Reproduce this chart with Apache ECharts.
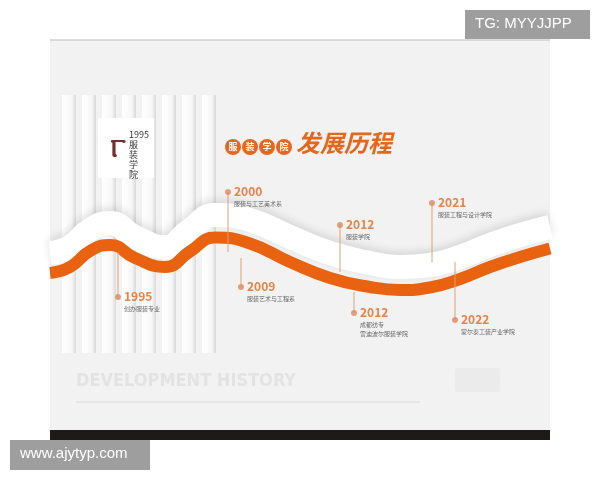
<!DOCTYPE html><html><head><meta charset="utf-8"><script src="https://cdn.jsdelivr.net/npm/echarts@6/dist/echarts.min.js"></script>
<style>html,body{margin:0;background:#fff}#c{width:600px;height:480px}</style></head><body><div id="c"></div><script>
const waveX=[0,20,40,60,85,115,140,165,200,240,280,320,350,380,410,440,470,500];
const waveTop=[228,222,205,198,212,222,205,190,195,212,228,238,242,240,232,220,210,202];
const waveBot=[238,232,217,212,224,232,218,205,212,232,248,256,258,255,246,234,224,215];
const years=['1995','2000','2009','2012','2012','2021','2022'];
const names=['创办服装专业','服装与工艺美术系','服装艺术与工程系','服装学院','成都纺专\n雷迪波尔服装学院','服装工程与设计学院','蒙尔泰工装产业学院'];
const evX=[68,178,191,290,304,382,405];
const evY=[257,152,247,185,273,163,280];
const stemEnd=[212,212,218,232,252,222,222];
const stripes=[12,32,52,72,92,112,132,152];
const chart=echarts.init(document.getElementById('c'));
const F='"Noto Sans CJK SC",sans-serif';
chart.setOption({
 animation:false,
 grid:{left:50,top:40,width:500,height:400},
 xAxis:{type:'value',min:0,max:500,show:false},
 yAxis:{type:'value',min:0,max:400,inverse:true,show:false},
 graphic:[
  {type:'rect',shape:{x:0,y:0,width:600,height:480},style:{fill:'#fff'},z:-10},
  {type:'rect',shape:{x:50,y:40,width:500,height:390},style:{fill:'#f2f2f2'},z:-9},
  {type:'line',shape:{x1:50,y1:40,x2:550,y2:40},style:{stroke:'#bbb',lineWidth:1},z:-8},
  {type:'rect',shape:{x:50,y:430,width:500,height:10},style:{fill:'#1e1a1a'}},
  ...stripes.map(s=>({type:'rect',shape:{x:50+s,y:95,width:14,height:258},style:{fill:{type:'linear',x:0,y:0,x2:1,y2:0,colorStops:[{offset:0,color:'#ffffff'},{offset:0.7,color:'#f7f7f7'},{offset:1,color:'#d8d8d8'}]}},z:-5})),
  {type:'rect',shape:{x:98,y:118,width:56,height:60},style:{fill:'#fff'},z:-4},
  {type:'text',left:110,top:128,style:{text:'ⲅ',fontSize:38,fill:'#7a2a2a',font:'38px serif'},z:5},
  {type:'text',left:129,top:130,style:{text:'1995\n服\n装\n学\n院',fontSize:9,fill:'#333',fontFamily:F,lineHeight:10},z:5},
  ...['服','装','学','院'].map((t,i)=>({type:'group',left:225+i*17,top:139,children:[
    {type:'circle',shape:{cx:8,cy:8,r:8},style:{fill:'#e5671d'}},
    {type:'text',style:{text:t,x:8,y:8,align:'center',verticalAlign:'middle',fill:'#fff',fontSize:9,fontFamily:F,fontWeight:'bold'}}]})),
  {type:'text',left:296,top:131,style:{text:'发展历程',fill:'#e5671d',fontSize:24,fontWeight:'bold',fontStyle:'italic',fontFamily:F}},
  {type:'text',left:76,top:372,style:{text:'DEVELOPMENT HISTORY',fill:'#e3e3e3',fontSize:18,fontWeight:'bold',fontFamily:'"DejaVu Sans Condensed",sans-serif'}},
  {type:'line',shape:{x1:76,y1:402,x2:420,y2:402},style:{stroke:'#e6e6e6',lineWidth:2}},
  {type:'rect',shape:{x:455,y:368,width:45,height:24,r:3},style:{fill:'#ebebeb'}},
  {type:'rect',shape:{x:465,y:10,width:125,height:29},style:{fill:'#9e9e9e'}},
  {type:'text',left:475,top:16,style:{text:'TG: MYYJJPP',fill:'#fff',fontSize:15,fontFamily:'"Liberation Sans",sans-serif'}},
  {type:'rect',shape:{x:10,y:440,width:140,height:30},style:{fill:'#9e9e9e'}},
  {type:'text',left:20,top:446,style:{text:'www.ajytyp.com',fill:'#fff',fontSize:15,fontFamily:'"Liberation Sans",sans-serif'}}
 ],
 series:[
  {type:'line',smooth:true,symbol:'none',data:waveX.map((x,i)=>[x,waveTop[i]-15]),lineStyle:{width:24,color:'#ffffff',shadowColor:'rgba(0,0,0,0.12)',shadowBlur:8,shadowOffsetY:-3},z:2},
  {type:'line',smooth:true,symbol:'none',data:waveX.map((x,i)=>[x,(waveTop[i]+waveBot[i])/2]),lineStyle:{width:12,color:'#e8620f'},z:3},
  {type:'custom',z:4,data:evX.map((x,i)=>[x,evY[i],stemEnd[i]]),renderItem:(p,api)=>{const a=api.coord([api.value(0),api.value(1)]),b=api.coord([api.value(0),api.value(2)]);return {type:'line',shape:{x1:a[0],y1:a[1],x2:b[0],y2:b[1]},style:{stroke:'#d9a27a',lineWidth:1}};}},
  {type:'scatter',z:5,symbolSize:6,itemStyle:{color:'#d98a5a'},data:evX.map((x,i)=>[x,evY[i]]),
   label:{show:true,position:'right',distance:3,align:'left',verticalAlign:'top',offset:[0,-8],
    formatter:p=>'{y|'+years[p.dataIndex]+'}\n{n|'+names[p.dataIndex]+'}',
    rich:{y:{fontSize:12,fontWeight:'bold',color:'#e5671d',fontFamily:F,lineHeight:15},n:{fontSize:6,color:'#444',fontFamily:F,lineHeight:9}}}}
 ]
});
</script></body></html>
